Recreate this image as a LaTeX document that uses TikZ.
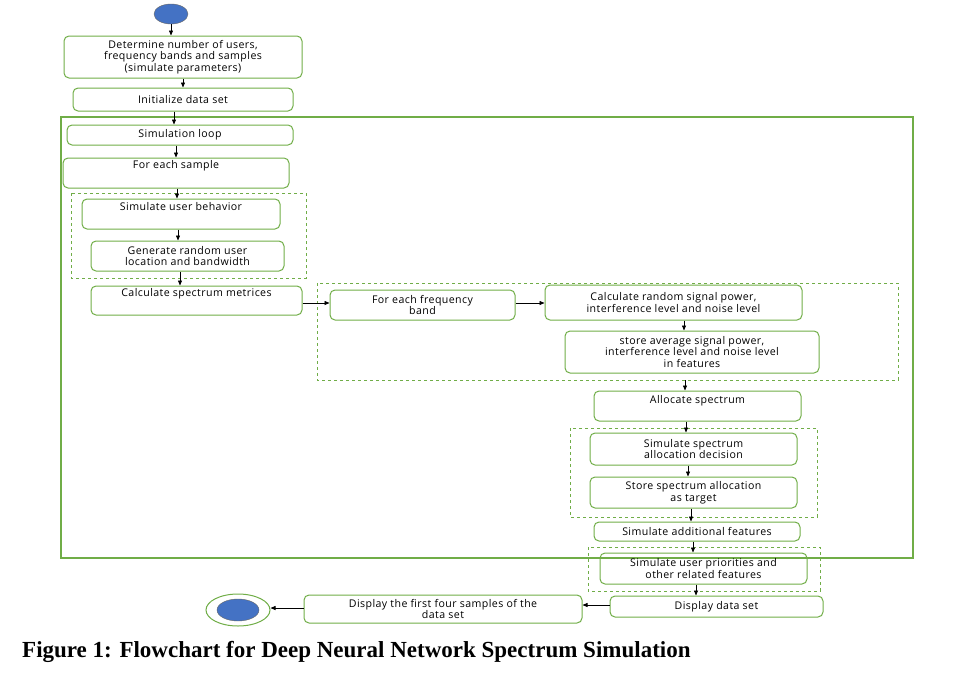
\documentclass[tikz,border=0pt]{standalone}
\usepackage{fontspec}
\setmainfont[LetterSpace=4]{Open Sans}
\newfontfamily\capfont{Liberation Serif}
\usetikzlibrary{arrows.meta,shapes.geometric}
\definecolor{gr}{HTML}{70AD47}
\definecolor{bl}{HTML}{4472C4}
\tikzset{
 bx/.style={draw=gr,line width=1pt,rounded corners=5pt,align=center,font=\fontsize{10.6}{11.6}\selectfont,inner sep=0pt},
 dbox/.style={draw=gr,line width=0.9pt,dashed},
 ar/.style={-{Triangle[length=5pt,width=4pt]},line width=0.7pt}
}
\newcommand\bxat[6]{\node[bx,minimum width=#4-#2,minimum height=#5-#3] (#1) at ({(#2+#4)/2},{(#3+#5)/2}) {#6};}
\begin{document}
\begin{tikzpicture}[x=1pt,y=-1pt]
\useasboundingbox (0,0) rectangle (955,688);
\draw[draw=gr,line width=1.1pt] (61,117) rectangle (913,558);
\draw[dbox] (71,193) rectangle (306,278);
\draw[dbox] (317,283) rectangle (898,380);
\draw[dbox] (570,428) rectangle (817,517);
\draw[dbox] (588,547) rectangle (820,591);
\node[draw=black!60,fill=bl,ellipse,minimum width=34,minimum height=20,inner sep=0] (st) at (171,14) {};
\bxat{b1}{64}{36}{302}{78}{Determine number of users,\\frequency bands and samples\\(simulate parameters)}
\bxat{b2}{73}{88}{293}{111}{Initialize data set}
\bxat{b3}{67}{125}{293}{145}{Simulation loop}
\bxat{b4}{63}{158}{289}{188}{For each sample\\[6pt]}
\bxat{b5}{82}{199}{280}{229}{Simulate user behavior\\[4pt]}
\bxat{b6}{91}{241}{284}{271}{Generate random user\\location and bandwidth}
\bxat{b7}{91}{286}{302}{315}{Calculate spectrum metrices\\[4pt]}
\bxat{b8}{330}{290}{515}{320}{For each frequency\\band}
\bxat{b9}{545}{285}{802}{320}{Calculate random signal power,\\interference level and noise level}
\bxat{b10}{565}{331}{819}{373}{store average signal power,\\interference level and noise level\\in features}
\bxat{b11}{594}{391}{801}{421}{Allocate spectrum\\[2pt]}
\bxat{b12}{590}{433}{797}{465}{Simulate spectrum\\allocation decision}
\bxat{b13}{590}{477}{797}{508}{Store spectrum allocation\\as target}
\bxat{b14}{594}{522}{800}{541}{Simulate additional features}
\bxat{b15}{600}{553}{807}{584}{Simulate user priorities and\\other related features}
\bxat{b16}{610}{596}{823}{617}{Display data set}
\bxat{b17}{304}{595}{582}{623}{Display the first four samples of the\\data set}
\node[draw=gr,line width=1pt,ellipse,minimum width=64,minimum height=32,inner sep=0] (en) at (238,610) {};
\node[draw=black!60,fill=bl,ellipse,minimum width=42,minimum height=22,inner sep=0] at (en) {};
\node[anchor=base west,font=\capfont\bfseries\fontsize{23}{26}\selectfont,inner sep=0] (cap) at (22,657) {Figure 1: Flowchart for Deep Neural Network Spectrum Simulation};
\draw[ar] (st) -- (b1.north-|st);
\draw[ar] (b1) -- (b2);
\draw[ar] (b2.south-|174,0) -- (b3.north-|174,0);
\draw[ar] (b3.south-|176,0) -- (b4.north-|176,0);
\draw[ar] (b4.south-|177,0) -- (b5.north-|177,0);
\draw[ar] (b5.south-|178,0) -- (b6.north-|178,0);
\draw[ar] (b6.south-|180,0) -- (b7.north-|180,0);
\draw[ar] (b7.east|-0,303) -- (b8.west|-0,303);
\draw[ar] (b8.east|-0,303) -- (b9.west|-0,303);
\draw[ar] (b9.south-|684,0) -- (b10.north-|684,0);
\draw[ar] (685,380) -- (b11.north-|685,0);
\draw[ar] (b11.south-|686,0) -- (b12.north-|686,0);
\draw[ar] (b12.south-|688,0) -- (b13.north-|688,0);
\draw[ar] (b13.south-|691,0) -- (b14.north-|691,0);
\draw[ar] (b14.south-|693,0) -- (b15.north-|693,0);
\draw[ar] (b15.south-|696,0) -- (b16.north-|696,0);
\draw[ar] (b16.west|-0,605) -- (b17.east|-0,605);
\draw[ar] (b17.west|-0,608) -- (en.east|-0,608);
\end{tikzpicture}
\end{document}
